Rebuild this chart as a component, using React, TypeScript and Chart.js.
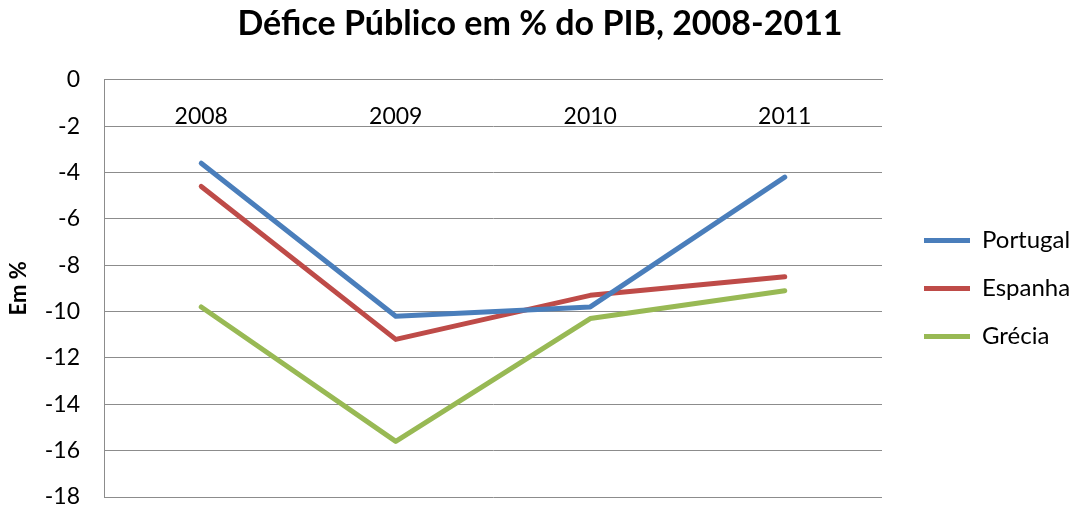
import React, { useEffect, useRef } from 'react';
import { Chart, registerables } from 'chart.js';
Chart.register(...registerables);

const categories = ['2008', '2009', '2010', '2011'];
const portugal = [-3.6, -10.2, -9.8, -4.2];
const espanha = [-4.6, -11.2, -9.3, -8.5];
const grecia = [-9.8, -15.6, -10.3, -9.1];
const seriesNames = ['Portugal', 'Espanha', 'Grécia'];
const seriesColors = ['#4A7EBB', '#BE4B48', '#98B954'];
const yMin = -18;
const yMax = 0;
const yStep = 2;
const titleText = 'Défice Público em % do PIB, 2008-2011';
const yTitle = 'Em %';

const FONT = 'Lato, "Open Sans", sans-serif';

export default function App() {
  const ref = useRef<HTMLCanvasElement>(null);
  useEffect(() => {
    if (!ref.current) return;
    const values = [portugal, espanha, grecia];
    const chart = new Chart(ref.current, {
      type: 'line',
      data: {
        labels: categories,
        datasets: seriesNames.map((name, i) => ({
          label: name,
          data: values[i],
          borderColor: seriesColors[i],
          backgroundColor: seriesColors[i],
          borderWidth: 5,
          borderCapStyle: 'round' as const,
          borderJoinStyle: 'round' as const,
          pointRadius: 0,
          pointStyle: 'line' as const,
          tension: 0,
        })),
      },
      options: {
        responsive: false,
        animation: false,
        layout: { padding: { left: 0, right: 0, top: 0, bottom: 10 } },
        plugins: {
          title: {
            display: true,
            text: titleText,
            color: '#000',
            font: { family: FONT, size: 34, weight: 'bold', lineHeight: 1.2 },
            padding: { top: 4, bottom: 35 },
          },
          legend: {
            position: 'right',
            align: 'center',
            fullSize: false,
            labels: {
              usePointStyle: true,
              pointStyleWidth: 46,
              color: '#000',
              font: { family: FONT, size: 24 },
              padding: 24,
            },
          },
          tooltip: { enabled: false },
        },
        scales: {
          x: {
            type: 'category',
            position: { y: 0 } as any,
            offset: true,
            grid: { display: false, drawTicks: false },
            border: { display: true, color: '#8c8c8c' },
            ticks: { color: '#000', font: { family: FONT, size: 23 }, padding: 23, maxRotation: 0 },
            afterFit: (s: any) => { s.height = 0; },
          },
          y: {
            min: yMin,
            max: yMax,
            ticks: { stepSize: yStep, color: '#000', font: { family: FONT, size: 23, lineHeight: 1 }, padding: 24 },
            grid: { color: '#8c8c8c', lineWidth: 1, drawTicks: false },
            border: { display: true, color: '#8c8c8c' },
            title: {
              display: true,
              text: yTitle,
              color: '#000',
              font: { family: FONT, size: 22, weight: 'bold' },
              padding: { top: 6, bottom: 10 },
            },
            afterFit: (s: any) => {
              s.width = 104;
              s.paddingTop = 10;
              s.paddingBottom = 10;
            },
          },
          y2: {
            position: 'right',
            display: true,
            grid: { display: false },
            border: { display: false },
            ticks: { display: false },
            afterFit: (s: any) => { s.width = 18; },
          },
        },
      },
    });
    return () => chart.destroy();
  }, []);
  return (
    <div style={{ position: 'fixed', left: 0, top: 0, width: 1080, height: 507, background: '#fff' }}>
      <canvas ref={ref} width={1080} height={507} />
    </div>
  );
}
